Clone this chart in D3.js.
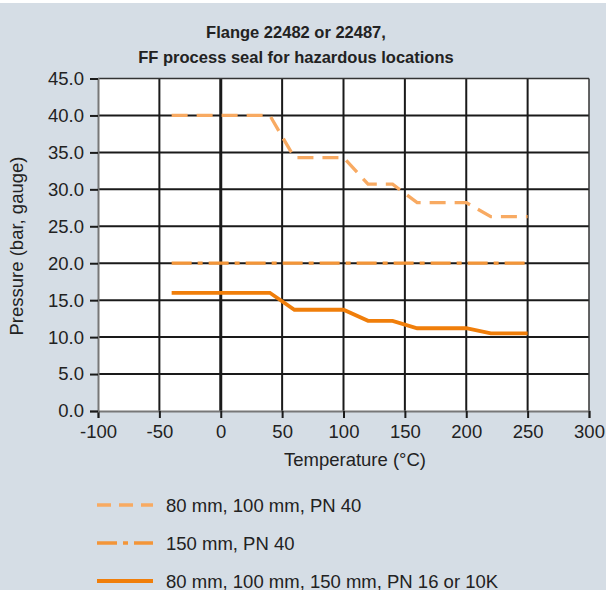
<!DOCTYPE html>
<html><head><meta charset="utf-8">
<script src="https://cdn.jsdelivr.net/npm/d3@7"></script>
<style>body{margin:0;background:#fff}svg{display:block}text{font-family:"Liberation Sans",Arial,sans-serif}</style>
</head><body><svg id="c" width="607" height="590"></svg>
<script>
const titleLines = ["Flange 22482 or 22487,", "FF process seal for hazardous locations"];
const xTicks = [-100, -50, 0, 50, 100, 150, 200, 250, 300];
const yTicks = [0, 5, 10, 15, 20, 25, 30, 35, 40, 45];
const tempDashed = [-40, 40, 60, 100, 120, 140, 160, 200, 220, 250];
const pressDashed = [40, 40, 34.3, 34.3, 30.7, 30.7, 28.2, 28.2, 26.3, 26.3];
const tempDashDot = [-40, 250];
const pressDashDot = [20, 20];
const tempSolid = [-40, 40, 60, 100, 120, 140, 160, 200, 220, 250];
const pressSolid = [16, 16, 13.7, 13.7, 12.2, 12.2, 11.2, 11.2, 10.5, 10.5];
const legendLabels = ["80 mm, 100 mm, PN 40", "150 mm, PN 40", "80 mm, 100 mm, 150 mm, PN 16 or 10K"];

const svg = d3.select("#c");
svg.append("rect").attr("x",0).attr("y",3).attr("width",606).attr("height",587).attr("fill","#d5dde5");

const L=98, R=589, T=78.5, B=411;
const x = d3.scaleLinear().domain([-100,300]).range([L,R]);
const y = d3.scaleLinear().domain([0,45]).range([B,T]);

svg.append("rect").attr("x",L).attr("y",T).attr("width",R-L).attr("height",B-T).attr("fill","#fff");

// gridlines
const g = svg.append("g");
g.selectAll("line.v").data(xTicks.filter(d=>d>-100 && d<300)).join("line")
 .attr("x1",d=>x(d)).attr("x2",d=>x(d)).attr("y1",T).attr("y2",B)
 .attr("stroke","#1a1a1a").attr("stroke-width",d=>d===0?3:2);
g.selectAll("line.h").data(yTicks.filter(d=>d>0 && d<45)).join("line")
 .attr("x1",L).attr("x2",R).attr("y1",d=>y(d)).attr("y2",d=>y(d))
 .attr("stroke","#1a1a1a").attr("stroke-width",2);
g.append("line").attr("x1",L).attr("x2",R).attr("y1",T).attr("y2",T).attr("stroke","#333").attr("stroke-width",1.5);
g.append("line").attr("x1",R).attr("x2",R).attr("y1",T).attr("y2",B).attr("stroke","#333").attr("stroke-width",1.5);

const FS = 18.5;
const xa = svg.append("g").attr("transform",`translate(0,${B})`)
 .call(d3.axisBottom(x).tickValues(xTicks).tickSize(7).tickPadding(4).tickFormat(d=>String(d)));
const ya = svg.append("g").attr("transform",`translate(${L},0)`)
 .call(d3.axisLeft(y).tickValues(yTicks).tickSize(8).tickPadding(6).tickFormat(d3.format(".1f")));
[xa,ya].forEach(a=>{
  a.select(".domain").attr("stroke","#777").attr("stroke-width",2);
  a.selectAll(".tick line").attr("stroke","#1a1a1a").attr("stroke-width",2);
  a.selectAll(".tick text").attr("font-size",FS).attr("fill","#222")
   .style("font-family","'Liberation Sans',Arial,sans-serif");
});
xa.selectAll(".tick text").attr("dy","0.85em");

const line = d3.line().x(d=>x(d[0])).y(d=>y(d[1]));
const styles = [
  {t:tempDashed,p:pressDashed,color:"#f8aa62",w:3.3,dash:"16,9",ldash:"14,8"},
  {t:tempDashDot,p:pressDashDot,color:"#f39538",w:3.3,dash:"20,6,5,6",ldash:"20,6,5,6"},
  {t:tempSolid,p:pressSolid,color:"#f07e0a",w:3.8,dash:null,ldash:null}
];
styles.forEach(s=>{
  svg.append("path").datum(d3.zip(s.t,s.p)).attr("d",line).attr("fill","none")
   .attr("stroke",s.color).attr("stroke-width",s.w).attr("stroke-dasharray",s.dash);
});

svg.append("g").selectAll("text").data(titleLines).join("text")
 .attr("x",296).attr("y",(d,i)=>38+i*25).attr("text-anchor","middle")
 .attr("font-size",16.5).attr("font-weight","bold").attr("fill","#222").text(d=>d);

svg.append("text").attr("x",355).attr("y",466).attr("text-anchor","middle")
 .attr("font-size",FS).attr("fill","#222").text("Temperature (°C)");
svg.append("text").attr("transform","translate(23,246) rotate(-90)").attr("text-anchor","middle")
 .attr("font-size",FS).attr("fill","#222").text("Pressure (bar, gauge)");

const lg = svg.append("g");
styles.forEach((s,i)=>{
  const yy = 505 + i*38;
  lg.append("line").attr("x1",97).attr("x2",153).attr("y1",yy).attr("y2",yy)
   .attr("stroke",s.color).attr("stroke-width",s.w).attr("stroke-dasharray",s.ldash);
  lg.append("text").attr("x",166).attr("y",yy+6.5).attr("font-size",FS).attr("fill","#222").text(legendLabels[i]);
});
</script></body></html>
